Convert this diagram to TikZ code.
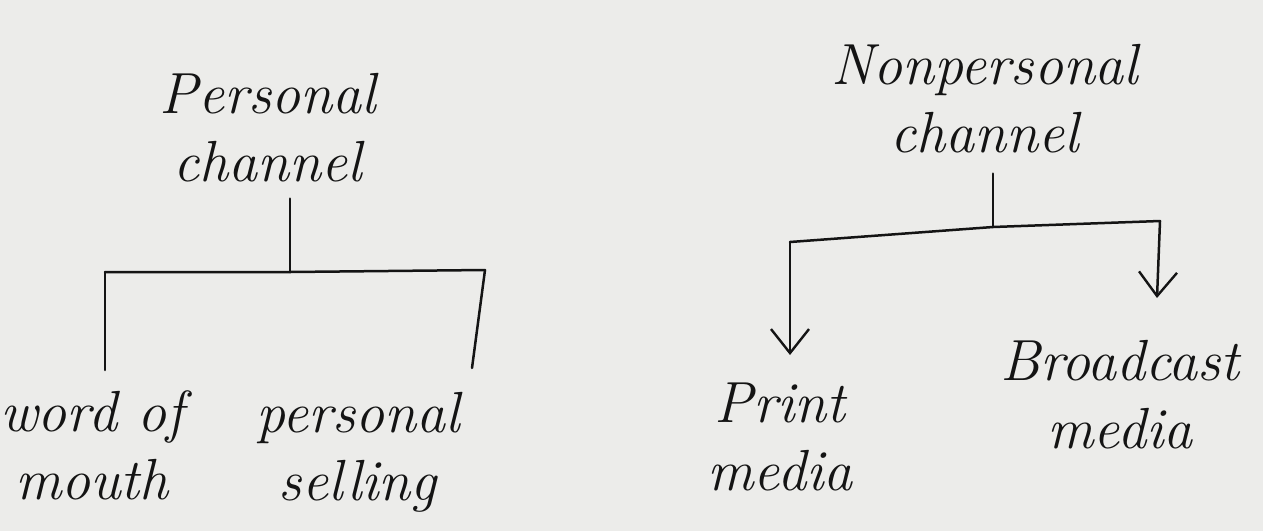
\documentclass[tikz,border=0pt]{standalone}
\usetikzlibrary{arrows.meta}
\definecolor{paper}{RGB}{236,236,234}
\definecolor{ink}{RGB}{20,20,20}
\begin{document}
\begin{tikzpicture}[x=1pt,y=-1pt,
  lbl/.style={font=\fontsize{58}{68}\selectfont\itshape, text=ink, align=center, inner sep=2pt},
  wire/.style={draw=ink, line width=2.5pt, line cap=round, line join=round},
  arr/.style={wire, -{Straight Barb[length=24pt,width=38pt,line width=2.4pt]}}]
\fill[paper] (0,0) rectangle (1263,531);
\useasboundingbox (0,0) rectangle (1263,531);
% left tree
\node[lbl] (pc) at (268,128) {Personal\\channel};
\node[lbl] (wom) at (92,445) {word of\\mouth};
\node[lbl] (ps) at (358,452) {personal\\selling};
\coordinate (pj) at (290,272);
\coordinate (pl) at (105,272);
\coordinate (pr) at (485,270);
\coordinate (plb) at (105,370);
\coordinate (prb) at (472,368);
\draw[wire, shorten <=14pt] (pc.south -| pj) -- (pj);
\draw[wire] (pl) -- (pj) -- (pr);
\draw[wire] (pl) -- (plb);
\draw[wire] (pr) -- (prb);
% right tree
\node[lbl] (npc) at (985,99) {Nonpersonal\\channel};
\node[lbl] (pm) at (780,437) {Print\\media};
\node[lbl] (bm) at (1120,395) {Broadcast\\media};
\coordinate (nj) at (993,227);
\coordinate (nl) at (790,242);
\coordinate (nr) at (1160,221);
\draw[wire, shorten <=18pt] (npc.south -| nj) -- (nj);
\draw[wire] (nl) -- (nj) -- (nr);
\draw[arr] (nl) -- (790,355) coordinate (nla);
\draw[arr] (nr) -- (1157,298) coordinate (nra);
\end{tikzpicture}
\end{document}
